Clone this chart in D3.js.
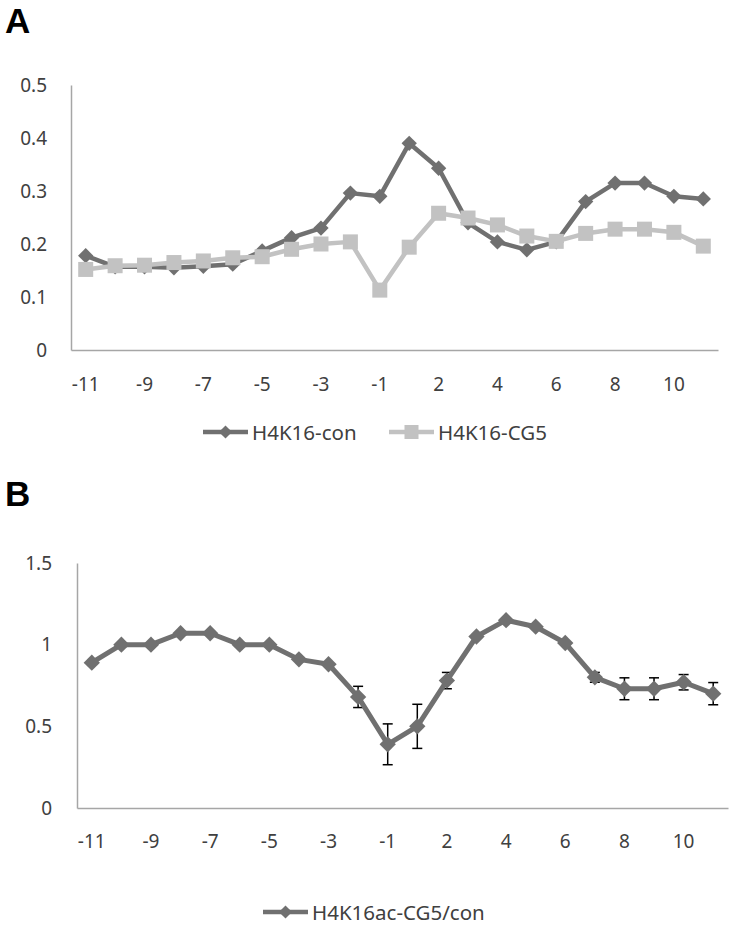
<!DOCTYPE html>
<html><head><meta charset="utf-8">
<script src="https://cdn.jsdelivr.net/npm/d3@7"></script>
<style>
body{margin:0;background:#fff;}
text{font-family:"Noto Sans","DejaVu Sans",sans-serif;}
</style></head>
<body>
<svg id="c" width="733" height="925"></svg>
<script>
const categories = [-11,-10,-9,-8,-7,-6,-5,-4,-3,-2,-1,1,2,3,4,5,6,7,8,9,10,11];
const tickLabels = [-11,-9,-7,-5,-3,-1,2,4,6,8,10];
const conValues = [0.178,0.157,0.157,0.155,0.158,0.162,0.187,0.212,0.23,0.296,0.29,0.39,0.343,0.24,0.204,0.189,0.204,0.28,0.315,0.315,0.29,0.285];
const cg5Values = [0.152,0.159,0.16,0.165,0.168,0.174,0.176,0.19,0.2,0.204,0.113,0.194,0.258,0.249,0.236,0.215,0.205,0.22,0.228,0.228,0.222,0.196];
const ratioValues = [0.89,1.0,1.0,1.07,1.07,1.0,1.0,0.91,0.88,0.68,0.39,0.50,0.78,1.05,1.15,1.11,1.01,0.80,0.73,0.73,0.77,0.70];
const ratioErrors = [0,0,0,0,0,0,0,0,0,0.065,0.125,0.135,0.05,0,0,0,0,0.03,0.067,0.067,0.047,0.068];
const yTicksA = [0,0.1,0.2,0.3,0.4,0.5];
const yTicksB = [0,0.5,1,1.5];
const seriesNamesA = ["H4K16-con","H4K16-CG5"];
const seriesNameB = "H4K16ac-CG5/con";

const svg = d3.select("#c");
const axisColor = "#a6a6a6", textColor = "#404040";
const dark = "#707070", light = "#c2c2c2";

function panel(cfg){
  const x = d3.scaleBand().domain(categories).range([cfg.x0, cfg.x1]);
  const y = d3.scaleLinear().domain([0, cfg.ymax]).range([cfg.yb, cfg.yt]);
  const g = svg.append("g");
  const ya = g.append("g").attr("transform",`translate(${cfg.x0},0)`)
    .call(d3.axisLeft(y).tickValues(cfg.yticks).tickSize(0).tickPadding(cfg.ypad).tickFormat(d=>String(d)));
  ya.select(".domain").attr("stroke",axisColor).attr("stroke-width",1.5);
  ya.selectAll("text").attr("fill",textColor).style("font-size","19px").style("font-family",'"Noto Sans",sans-serif');
  const xa = g.append("g").attr("transform",`translate(0,${cfg.yb})`)
    .call(d3.axisBottom(x).tickValues(tickLabels).tickSize(0).tickPadding(cfg.xpad).tickFormat(d=>String(d)));
  xa.select(".domain").attr("stroke",axisColor).attr("stroke-width",1.5);
  xa.selectAll("text").attr("fill",textColor).style("font-size","19px").style("font-family",'"Noto Sans",sans-serif');
  return {x,y,g};
}

function cx(x,d){return x(d)+x.bandwidth()/2;}

function drawSeries(p, vals, color, width, shape, size){
  const line = d3.line().x((d,i)=>cx(p.x,categories[i])).y(d=>p.y(d));
  p.g.append("path").datum(vals).attr("d",line).attr("fill","none").attr("stroke",color).attr("stroke-width",width).attr("stroke-linejoin","round");
  if(shape==="diamond"){
    p.g.selectAll(null).data(vals).enter().append("path")
      .attr("transform",(d,i)=>`translate(${cx(p.x,categories[i])},${p.y(d)})`)
      .attr("d",d3.symbol().type(d3.symbolDiamond2).size(size)()).attr("fill",color);
  } else {
    p.g.selectAll(null).data(vals).enter().append("rect")
      .attr("x",(d,i)=>cx(p.x,categories[i])-size/2).attr("y",d=>p.y(d)-size/2)
      .attr("width",size).attr("height",size).attr("fill",color);
  }
}

function legendItem(lx, ly, color, shape, label){
  svg.append("line").attr("x1",lx).attr("x2",lx+45).attr("y1",ly).attr("y2",ly).attr("stroke",color).attr("stroke-width",4.5);
  if(shape==="diamond"){
    svg.append("path").attr("transform",`translate(${lx+22.5},${ly})`).attr("d",d3.symbol().type(d3.symbolDiamond2).size(110)()).attr("fill",color);
  } else {
    svg.append("rect").attr("x",lx+22.5-7).attr("y",ly-7).attr("width",14).attr("height",14).attr("fill",color);
  }
  svg.append("text").attr("x",lx+49).attr("y",ly+8).text(label).attr("fill",textColor).style("font-size","20.5px");
}

// Panel A
svg.append("text").attr("x",5).attr("y",33).text("A").style("font-family",'"Liberation Sans",Arial,sans-serif').style("font-weight","bold").style("font-size","35px").attr("fill","#000");
const A = panel({x0:71,x1:718,yb:350,yt:85,ymax:0.5,yticks:yTicksA,ypad:24,xpad:28});
drawSeries(A, conValues, dark, 4.5, "diamond", 150);
drawSeries(A, cg5Values, light, 4.5, "square", 15);
legendItem(203, 432, dark, "diamond", seriesNamesA[0]);
legendItem(389, 432, light, "square", seriesNamesA[1]);

// Panel B
svg.append("text").attr("x",5).attr("y",506).text("B").style("font-family",'"Liberation Sans",Arial,sans-serif').style("font-weight","bold").style("font-size","35px").attr("fill","#000");
const B = panel({x0:77,x1:728,yb:808,yt:563,ymax:1.5,yticks:yTicksB,ypad:25,xpad:27});
const eb = B.g.append("g").attr("stroke","#000").attr("stroke-width",1.5);
ratioValues.forEach((v,i)=>{
  const e = ratioErrors[i]; if(!e) return;
  const xc = cx(B.x,categories[i]);
  eb.append("line").attr("x1",xc).attr("x2",xc).attr("y1",B.y(v-e)).attr("y2",B.y(v+e));
  eb.append("line").attr("x1",xc-5).attr("x2",xc+5).attr("y1",B.y(v-e)).attr("y2",B.y(v-e));
  eb.append("line").attr("x1",xc-5).attr("x2",xc+5).attr("y1",B.y(v+e)).attr("y2",B.y(v+e));
});
drawSeries(B, ratioValues, dark, 5, "diamond", 170);
legendItem(263, 912, dark, "diamond", seriesNameB);
</script>
</body></html>
